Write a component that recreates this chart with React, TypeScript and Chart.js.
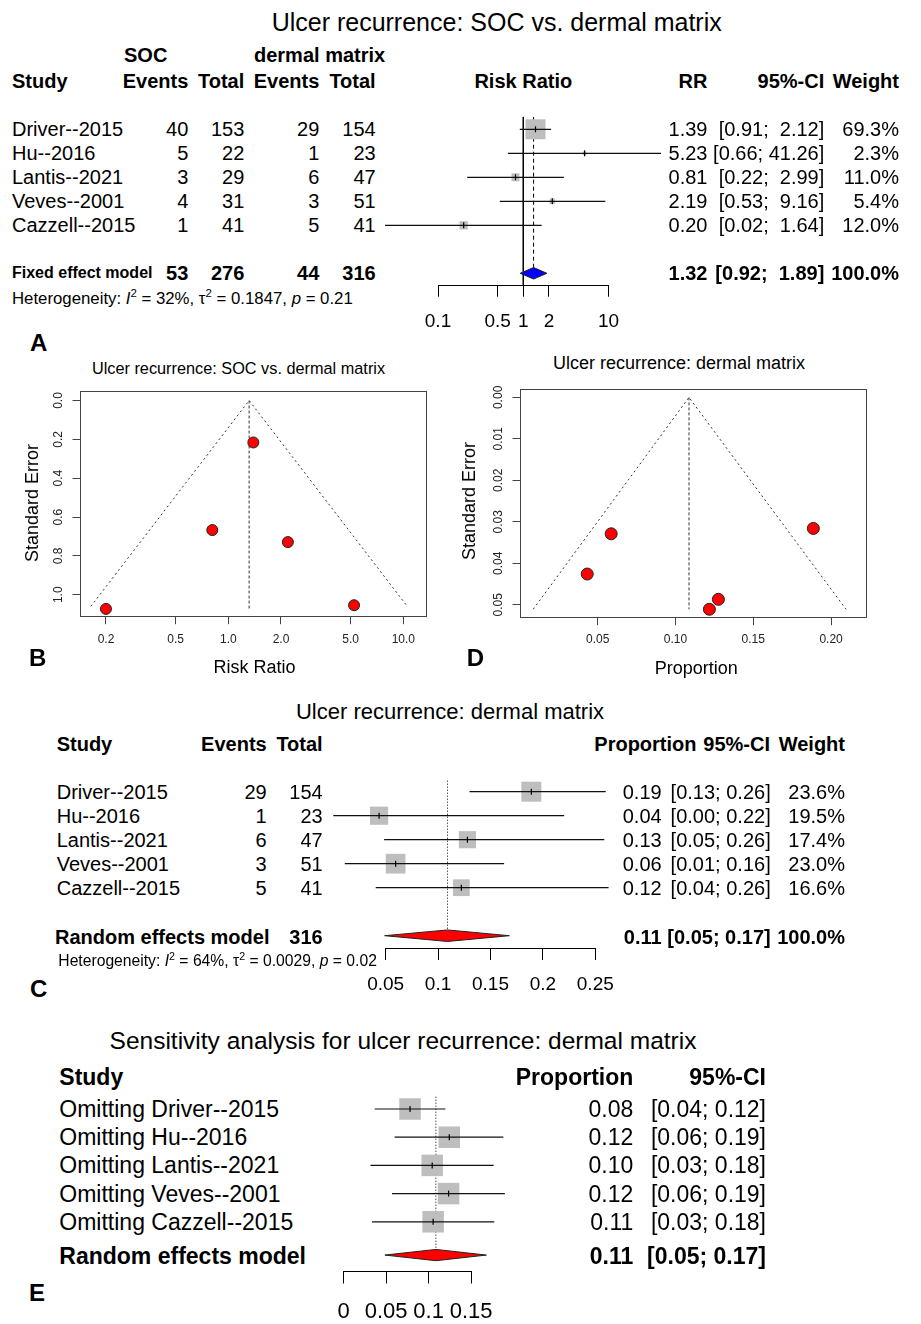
import React, { useEffect, useRef } from 'react';
import { Chart, registerables } from 'chart.js';

Chart.register(...registerables);

const FONT = '"Liberation Sans", Arial, Helvetica, sans-serif';
Chart.defaults.font.family = FONT;
Chart.defaults.color = '#000';

// ---------------- data ----------------
const studies = ['Driver--2015', 'Hu--2016', 'Lantis--2021', 'Veves--2001', 'Cazzell--2015'];
const socEvents = [40, 5, 3, 4, 1];
const socTotal = [153, 22, 29, 31, 41];
const dmEvents = [29, 1, 6, 3, 5];
const dmTotal = [154, 23, 47, 51, 41];
const socSum = [53, 276];
const dmSum = [44, 316];

// Panel A: risk ratios
const rrEst = [1.39, 5.23, 0.81, 2.19, 0.2];
const rrLower = [0.91, 0.66, 0.22, 0.53, 0.02];
const rrUpper = [2.12, 41.26, 2.99, 9.16, 1.64];
const rrWeight = [69.3, 2.3, 11.0, 5.4, 12.0];
const rrFixed = [1.32, 0.92, 1.89]; // estimate, lower, upper
const rrTicks = [0.1, 0.5, 1, 2, 10];
const rrTickLabels = ['0.1', '0.5', '1', '2', '10'];
const hetA = ['32%', '0.1847', '0.21'];

// Panel B: funnel (risk ratio)
const funnelRRse = [0.216, 1.054, 0.667, 0.729, 1.073];
const funnelRRbounds = [0.164, 1.315, 10.54]; // lower, centre, upper
const funnelRRmaxSE = 1.06;
const funnelRRcentreSE = 1.074;
const bXTicks = [0.2, 0.5, 1, 2, 5, 10];
const bXLabels = ['0.2', '0.5', '1.0', '2.0', '5.0', '10.0'];
const bYTicks = [0, 0.2, 0.4, 0.6, 0.8, 1.0];
const bYLabels = ['0.0', '0.2', '0.4', '0.6', '0.8', '1.0'];

// Panel D: funnel (proportion)
const funnelProp = [0.1886, 0.0433, 0.1276, 0.0587, 0.1218];
const funnelPropSE = [0.0316, 0.0426, 0.0487, 0.0329, 0.0511];
const funnelPropBounds = [0.0086, 0.1087, 0.2096];
const funnelPropMaxSE = 0.0511;
const dXTicks = [0.05, 0.1, 0.15, 0.2];
const dXLabels = ['0.05', '0.10', '0.15', '0.20'];
const dYTicks = [0, 0.01, 0.02, 0.03, 0.04, 0.05];
const dYLabels = ['0.00', '0.01', '0.02', '0.03', '0.04', '0.05'];

// Panel C: proportions
const propEst = [0.189, 0.0437, 0.128, 0.0595, 0.1222];
const propLower = [0.13, 0.0, 0.0485, 0.011, 0.0405];
const propUpper = [0.26, 0.2203, 0.2586, 0.163, 0.2627];
const propWeight = [23.6, 19.5, 17.4, 23.0, 16.6];
const propRandom = [0.109, 0.049, 0.168];
const cTicks = [0.05, 0.1, 0.15, 0.2, 0.25];
const cTickLabels = ['0.05', '0.1', '0.15', '0.2', '0.25'];
const hetC = ['64%', '0.0029', '0.02'];

// Panel E: leave-one-out
const looEst = [0.0781, 0.1243, 0.1042, 0.1235, 0.1053];
const looLower = [0.0364, 0.0599, 0.0315, 0.0568, 0.0334];
const looUpper = [0.1198, 0.188, 0.1766, 0.1898, 0.1773];
const looRandom = [0.1085, 0.0485, 0.168];
const eTicks = [0, 0.05, 0.1, 0.15];
const eTickLabels = ['0', '0.05', '0.1', '0.15'];

// ---------------- helpers ----------------
type Pad = { left: number; top: number; right: number; bottom: number };
type Geom = { L: number; T: number; W: number; H: number; pad: Pad };

function geom(l: number, t: number, r: number, b: number, yw: number, xh: number, m = 8): Geom {
  const L = Math.floor(l - yw - m);
  const T = Math.floor(t - m);
  const W = Math.ceil(r + m - L);
  const H = Math.ceil(b + xh + m - T);
  return { L, T, W, H, pad: { left: l - yw - L, top: t - T, right: L + W - r, bottom: T + H - b - xh } };
}

const alignPx = (p: number) => Math.round(p - 0.5) + 0.5;

const axisLinePlugin = {
  id: 'axisLine',
  afterDraw(chart: any) {
    const o = chart.options.plugins && chart.options.plugins.axisLine;
    if (!o || !o.on) return;
    const s = chart.scales.x;
    const t = s.ticks;
    const ctx = chart.ctx;
    const x1 = alignPx(s.getPixelForValue(t[0].value));
    const x2 = alignPx(s.getPixelForValue(t[t.length - 1].value));
    const y = alignPx(s.top);
    ctx.save();
    ctx.strokeStyle = '#000';
    ctx.lineWidth = 1;
    ctx.beginPath();
    ctx.moveTo(x1 - 0.5, y);
    ctx.lineTo(x2 + 0.5, y);
    ctx.stroke();
    ctx.restore();
  },
};

const framePlugin = {
  id: 'frame',
  afterDraw(chart: any) {
    const o = chart.options.plugins && chart.options.plugins.frame;
    if (!o || !o.on) return;
    const a = chart.chartArea;
    const ctx = chart.ctx;
    ctx.save();
    ctx.strokeStyle = '#444';
    ctx.lineWidth = 1;
    const l = alignPx(a.left), t = alignPx(a.top), r = alignPx(a.right), b = alignPx(a.bottom);
    ctx.strokeRect(l, t, r - l, b - t);
    ctx.restore();
  },
};

function baseOptions(g: Geom) {
  return {
    responsive: false,
    maintainAspectRatio: false,
    animation: false,
    devicePixelRatio: 1,
    events: [],
    layout: { autoPadding: false, padding: g.pad },
  };
}

function fixedTicks(vals: number[]) {
  return (s: any) => {
    s.ticks = vals.map((v) => ({ value: v }));
  };
}

interface ForestSpec {
  area: [number, number, number, number];
  xh: number;
  xType: 'linear' | 'logarithmic';
  xMin: number;
  xMax: number;
  yMin: number;
  yMax: number;
  est: number[];
  lo: number[];
  hi: number[];
  sizes: number[];
  pooled: number[];
  pooledRow: number;
  diaHalf: number;
  diaColor: string;
  refs: { x: number; y0: number; y1: number; dash: number[] }[];
  ticks: number[];
  tickLabels: string[];
  tickLen: number;
  tickFont: number;
  tickPad: number;
}

function forest(s: ForestSpec) {
  const g = geom(s.area[0], s.area[1], s.area[2], s.area[3], 0, s.xh);
  const rows = s.est.map((_, i) => i + 1);
  const make = () => {
    const datasets: any[] = [];
    s.refs.forEach((r) =>
      datasets.push({
        data: [{ x: r.x, y: r.y0 }, { x: r.x, y: r.y1 }],
        borderColor: '#000',
        borderWidth: 1,
        borderDash: r.dash,
        pointRadius: 0,
        order: 5,
      })
    );
    datasets.push({
      data: s.est.map((v, i) => ({ x: v, y: rows[i] })),
      showLine: false,
      pointStyle: 'rect',
      pointRadius: s.sizes.map((z) => z / Math.SQRT2),
      pointBackgroundColor: '#bebebe',
      pointBorderWidth: 0,
      clip: false,
      order: 3,
    });
    s.est.forEach((_, i) =>
      datasets.push({
        data: [{ x: s.lo[i], y: rows[i] }, { x: s.hi[i], y: rows[i] }],
        borderColor: '#111',
        borderWidth: 1.2,
        pointRadius: 0,
        order: 2,
      })
    );
    datasets.push({
      data: s.est.map((v, i) => ({ x: v, y: rows[i] })),
      showLine: false,
      pointStyle: 'line',
      rotation: 90,
      pointRadius: 3,
      pointBorderColor: '#000',
      pointBorderWidth: 1.2,
      clip: false,
      order: 1,
    });
    const [pe, pl, ph] = s.pooled;
    datasets.push({
      data: [
        { x: pl, y: s.pooledRow },
        { x: pe, y: s.pooledRow - s.diaHalf },
        { x: ph, y: s.pooledRow },
        { x: pe, y: s.pooledRow + s.diaHalf },
        { x: pl, y: s.pooledRow },
      ],
      borderColor: '#222',
      borderWidth: 1,
      backgroundColor: s.diaColor,
      fill: 'shape',
      pointRadius: 0,
      order: 4,
    });
    return {
      type: 'line',
      data: { datasets },
      options: {
        ...baseOptions(g),
        plugins: { legend: { display: false }, tooltip: { enabled: false }, axisLine: { on: true } },
        scales: {
          x: {
            type: s.xType,
            position: 'bottom',
            min: s.xMin,
            max: s.xMax,
            bounds: 'data',
            afterBuildTicks: fixedTicks(s.ticks),
            afterFit: (sc: any) => {
              sc.height = s.xh;
            },
            ticks: {
              autoSkip: false,
              minRotation: 0,
              maxRotation: 0,
              padding: s.tickPad,
              color: '#000',
              font: { size: s.tickFont, family: FONT },
              callback: (_v: any, i: number) => s.tickLabels[i],
            },
            grid: { display: true, drawOnChartArea: false, drawTicks: true, tickLength: s.tickLen, color: '#000', lineWidth: 1 },
            border: { display: false },
          },
          y: { type: 'linear', display: false, reverse: true, min: s.yMin, max: s.yMax, bounds: 'data' },
        },
      },
      plugins: [axisLinePlugin],
    };
  };
  return { g, make };
}

interface FunnelSpec {
  area: [number, number, number, number];
  yw: number;
  xh: number;
  xType: 'linear' | 'logarithmic';
  xMin: number;
  xMax: number;
  yMin: number;
  yMax: number;
  xs: number[];
  ses: number[];
  bounds: number[];
  maxSE: number;
  centreSE: number;
  xTicks: number[];
  xLabels: string[];
  yTicks: number[];
  yLabels: string[];
  xPad: number;
  yPad: number;
  radius: number;
}

function funnel(s: FunnelSpec) {
  const g = geom(s.area[0], s.area[1], s.area[2], s.area[3], s.yw, s.xh);
  const make = () => {
    const [lo, c, hi] = s.bounds;
    const datasets: any[] = [
      {
        data: [{ x: lo, y: s.maxSE }, { x: c, y: 0 }, { x: hi, y: s.maxSE }],
        borderColor: '#333',
        borderWidth: 1,
        borderDash: [2, 3],
        pointRadius: 0,
        order: 3,
      },
      {
        data: [{ x: c, y: 0 }, { x: c, y: s.centreSE }],
        borderColor: '#333',
        borderWidth: 1,
        borderDash: [3, 2],
        pointRadius: 0,
        order: 2,
      },
      {
        data: s.xs.map((v, i) => ({ x: v, y: s.ses[i] })),
        showLine: false,
        pointStyle: 'circle',
        pointRadius: s.radius,
        pointBackgroundColor: '#ff0000',
        pointBorderColor: '#222',
        pointBorderWidth: 1,
        clip: false,
        order: 1,
      },
    ];
    const tickFont = { size: 12, family: FONT };
    return {
      type: 'line',
      data: { datasets },
      options: {
        ...baseOptions(g),
        plugins: { legend: { display: false }, tooltip: { enabled: false }, frame: { on: true } },
        scales: {
          x: {
            type: s.xType,
            position: 'bottom',
            min: s.xMin,
            max: s.xMax,
            bounds: 'data',
            afterBuildTicks: fixedTicks(s.xTicks),
            afterFit: (sc: any) => {
              sc.height = s.xh;
            },
            ticks: {
              autoSkip: false,
              minRotation: 0,
              maxRotation: 0,
              padding: s.xPad,
              color: '#222',
              font: tickFont,
              callback: (_v: any, i: number) => s.xLabels[i],
            },
            grid: { display: true, drawOnChartArea: false, drawTicks: true, tickLength: 7.5, color: '#444', lineWidth: 1 },
            border: { display: false },
          },
          y: {
            type: 'linear',
            position: 'left',
            reverse: true,
            min: s.yMin,
            max: s.yMax,
            bounds: 'data',
            afterBuildTicks: fixedTicks(s.yTicks),
            afterFit: (sc: any) => {
              sc.width = s.yw;
            },
            ticks: {
              autoSkip: false,
              minRotation: 90,
              maxRotation: 90,
              crossAlign: 'center',
              padding: s.yPad,
              color: '#222',
              font: tickFont,
              callback: (_v: any, i: number) => s.yLabels[i],
            },
            grid: { display: true, drawOnChartArea: false, drawTicks: true, tickLength: 7.5, color: '#444', lineWidth: 1 },
            border: { display: false },
          },
        },
      },
      plugins: [framePlugin],
    };
  };
  return { g, make };
}

function ChartCanvas({ g, make }: { g: Geom; make: () => any }) {
  const ref = useRef<HTMLCanvasElement>(null);
  useEffect(() => {
    const chart = new Chart(ref.current as HTMLCanvasElement, make());
    return () => chart.destroy();
  }, []);
  return (
    <canvas
      ref={ref}
      width={g.W}
      height={g.H}
      style={{ position: 'absolute', left: g.L, top: g.T, width: g.W, height: g.H }}
    />
  );
}

function T({ x, y, s, a = 'l', b = false, rot = false, children }: any) {
  const tx = a === 'l' ? '0%' : a === 'r' ? '-100%' : '-50%';
  return (
    <div
      style={{
        position: 'absolute',
        left: x,
        top: y,
        fontSize: s,
        fontWeight: b ? 700 : 400,
        lineHeight: 1,
        whiteSpace: 'pre',
        color: '#000',
        transform: `translate(${tx},-50%)` + (rot ? ' rotate(-90deg)' : ''),
      }}
    >
      {children}
    </div>
  );
}

const Sup = ({ children }: any) => (
  <sup style={{ fontSize: '0.68em', verticalAlign: '0.55em', lineHeight: 0 }}>{children}</sup>
);

function Het({ v }: { v: string[] }) {
  return (
    <>
      Heterogeneity: <i>I</i>
      <Sup>2</Sup> = {v[0]}, τ<Sup>2</Sup> = {v[1]}, <i>p</i> = {v[2]}
    </>
  );
}

function ciStrings(lo: number[], hi: number[]) {
  const L = lo.map((v) => v.toFixed(2));
  const H = hi.map((v) => v.toFixed(2));
  const wl = Math.max(...L.map((s) => s.length));
  const wh = Math.max(...H.map((s) => s.length));
  return L.map((l, i) => `[${l.padStart(wl)}; ${H[i].padStart(wh)}]`);
}

// ---------------- App ----------------
export default function App() {
  // Panel A
  const rowA = (i: number) => 129.3 + 24 * i;
  const ciA = ciStrings([...rrLower, rrFixed[1]], [...rrUpper, rrFixed[2]]);
  const chartA = forest({
    area: [385, 116.7, 661, 285.7],
    xh: 50,
    xType: 'logarithmic',
    xMin: 0.02391,
    xMax: 41.16,
    yMin: 0.475,
    yMax: 7.517,
    est: rrEst,
    lo: rrLower,
    hi: rrUpper,
    sizes: rrWeight.map((w) => 20 * Math.sqrt(w / Math.max(...rrWeight))),
    pooled: rrFixed,
    pooledRow: 7,
    diaHalf: 0.24,
    diaColor: '#0000ff',
    refs: [
      { x: 1, y0: 0.475, y1: 7.517, dash: [] },
      { x: rrFixed[0], y0: 0.475, y1: 6.76, dash: [4, 3] },
    ],
    ticks: rrTicks,
    tickLabels: rrTickLabels,
    tickLen: 11,
    tickFont: 19,
    tickPad: 13.6,
  });

  // Panel B
  const chartB = funnel({
    area: [80, 386.7, 426.7, 616.7],
    yw: 50,
    xh: 40,
    xType: 'logarithmic',
    xMin: 0.14211,
    xMax: 13.6,
    yMin: -0.04848,
    yMax: 1.1131,
    xs: rrEst,
    ses: funnelRRse,
    bounds: funnelRRbounds,
    maxSE: funnelRRmaxSE,
    centreSE: funnelRRcentreSE,
    xTicks: bXTicks,
    xLabels: bXLabels,
    yTicks: bYTicks,
    yLabels: bYLabels,
    xPad: 7.9,
    yPad: 5.9,
    radius: 5.5,
  });

  // Panel D
  const chartD = funnel({
    area: [520, 388.3, 866.7, 617.7],
    yw: 50,
    xh: 40,
    xType: 'linear',
    xMin: 0.0001,
    xMax: 0.2229,
    yMin: -0.00202,
    yMax: 0.05313,
    xs: funnelProp,
    ses: funnelPropSE,
    bounds: funnelPropBounds,
    maxSE: funnelPropMaxSE,
    centreSE: funnelPropMaxSE,
    xTicks: dXTicks,
    xLabels: dXLabels,
    yTicks: dYTicks,
    yLabels: dYLabels,
    xPad: 7.6,
    yPad: 1.8,
    radius: 6,
  });

  // Panel C
  const rowC = (i: number) => 791.7 + 24 * i;
  const ciC = ciStrings([...propLower, propRandom[1]], [...propUpper, propRandom[2]]);
  const maxPW = Math.max(...propWeight);
  const chartC = forest({
    area: [325, 778, 620, 948.3],
    xh: 50,
    xType: 'linear',
    xMin: -0.00788,
    xMax: 0.27219,
    yMin: 0.429,
    yMax: 7.525,
    est: propEst,
    lo: propLower,
    hi: propUpper,
    sizes: propWeight.map((w) => 20 * Math.sqrt(w / maxPW)),
    pooled: propRandom,
    pooledRow: 7,
    diaHalf: 0.24,
    diaColor: '#ff0000',
    refs: [{ x: propRandom[0], y0: 0.54, y1: 6.76, dash: [1, 2] }],
    ticks: cTicks,
    tickLabels: cTickLabels,
    tickLen: 11.7,
    tickFont: 19,
    tickPad: 13.6,
  });

  // Panel E
  const rowE = (i: number) => 1109 + 28.2 * i;
  const ciE = ciStrings([...looLower, looRandom[1]], [...looUpper, looRandom[2]]);
  const chartE = forest({
    area: [330, 1094, 520, 1271],
    xh: 52,
    xType: 'linear',
    xMin: -0.0083,
    xMax: 0.2076,
    yMin: 0.468,
    yMax: 6.745,
    est: looEst,
    lo: looLower,
    hi: looUpper,
    sizes: looEst.map(() => 21.5),
    pooled: looRandom,
    pooledRow: 6.18,
    diaHalf: 0.2,
    diaColor: '#ff0000',
    refs: [{ x: looRandom[0], y0: 0.564, y1: 5.97, dash: [1, 2] }],
    ticks: eTicks,
    tickLabels: eTickLabels,
    tickLen: 12.5,
    tickFont: 22,
    tickPad: 15.3,
  });

  const F = 20;
  return (
    <div
      style={{
        position: 'absolute',
        left: 0,
        top: 0,
        width: 921,
        height: 1324,
        overflow: 'hidden',
        background: '#fff',
        fontFamily: FONT,
        color: '#000',
      }}
    >
      <ChartCanvas g={chartA.g} make={chartA.make} />
      <ChartCanvas g={chartB.g} make={chartB.make} />
      <ChartCanvas g={chartD.g} make={chartD.make} />
      <ChartCanvas g={chartC.g} make={chartC.make} />
      <ChartCanvas g={chartE.g} make={chartE.make} />

      {/* ---------- Panel A ---------- */}
      <T x={496.7} y={22} s={25} a="c">Ulcer recurrence: SOC vs. dermal matrix</T>
      <T x={124} y={55} s={F} b>SOC</T>
      <T x={254} y={55} s={F} b>dermal matrix</T>
      <T x={12} y={81} s={F} b>Study</T>
      <T x={188.3} y={81} s={F} b a="r">Events</T>
      <T x={244.3} y={81} s={F} b a="r">Total</T>
      <T x={319.3} y={81} s={F} b a="r">Events</T>
      <T x={375.7} y={81} s={F} b a="r">Total</T>
      <T x={523.3} y={81} s={F} b a="c">Risk Ratio</T>
      <T x={707.5} y={81} s={F} b a="r">RR</T>
      <T x={824.3} y={81} s={F} b a="r">95%-CI</T>
      <T x={899} y={81} s={F} b a="r">Weight</T>
      {studies.map((st, i) => (
        <React.Fragment key={'a' + i}>
          <T x={12} y={rowA(i)} s={F}>{st}</T>
          <T x={188.3} y={rowA(i)} s={F} a="r">{socEvents[i]}</T>
          <T x={244.3} y={rowA(i)} s={F} a="r">{socTotal[i]}</T>
          <T x={319.3} y={rowA(i)} s={F} a="r">{dmEvents[i]}</T>
          <T x={375.7} y={rowA(i)} s={F} a="r">{dmTotal[i]}</T>
          <T x={707.5} y={rowA(i)} s={F} a="r">{rrEst[i].toFixed(2)}</T>
          <T x={824.3} y={rowA(i)} s={F} a="r">{ciA[i]}</T>
          <T x={899} y={rowA(i)} s={F} a="r">{rrWeight[i].toFixed(1) + '%'}</T>
        </React.Fragment>
      ))}
      <T x={12} y={273.3} s={16} b>Fixed effect model</T>
      <T x={188.3} y={273.3} s={F} b a="r">{socSum[0]}</T>
      <T x={244.3} y={273.3} s={F} b a="r">{socSum[1]}</T>
      <T x={319.3} y={273.3} s={F} b a="r">{dmSum[0]}</T>
      <T x={375.7} y={273.3} s={F} b a="r">{dmSum[1]}</T>
      <T x={707.5} y={273.3} s={F} b a="r">{rrFixed[0].toFixed(2)}</T>
      <T x={824.3} y={273.3} s={F} b a="r">{ciA[5]}</T>
      <T x={899} y={273.3} s={F} b a="r">100.0%</T>
      <T x={12} y={298.7} s={16.8}><Het v={hetA} /></T>
      <T x={30} y={343} s={24} b>A</T>

      {/* ---------- Panel B ---------- */}
      <T x={238.5} y={367.7} s={16.3} a="c">Ulcer recurrence: SOC vs. dermal matrix</T>
      <T x={31.7} y={502.5} s={18} a="c" rot>Standard Error</T>
      <T x={254.5} y={666.7} s={18} a="c">Risk Ratio</T>
      <T x={29} y={658} s={24} b>B</T>

      {/* ---------- Panel D ---------- */}
      <T x={679} y={363.3} s={18} a="c">Ulcer recurrence: dermal matrix</T>
      <T x={469.3} y={500.5} s={18} a="c" rot>Standard Error</T>
      <T x={696.3} y={668.3} s={18} a="c">Proportion</T>
      <T x={466.7} y={657.7} s={24} b>D</T>

      {/* ---------- Panel C ---------- */}
      <T x={450} y={711.7} s={22} a="c">Ulcer recurrence: dermal matrix</T>
      <T x={56.7} y={744.3} s={F} b>Study</T>
      <T x={266.7} y={744.3} s={F} b a="r">Events</T>
      <T x={322.7} y={744.3} s={F} b a="r">Total</T>
      <T x={594.3} y={744.3} s={F} b>Proportion</T>
      <T x={770} y={744.3} s={F} b a="r">95%-CI</T>
      <T x={845} y={744.3} s={F} b a="r">Weight</T>
      {studies.map((st, i) => (
        <React.Fragment key={'c' + i}>
          <T x={56.7} y={rowC(i)} s={F}>{st}</T>
          <T x={266.7} y={rowC(i)} s={F} a="r">{dmEvents[i]}</T>
          <T x={322.7} y={rowC(i)} s={F} a="r">{dmTotal[i]}</T>
          <T x={661.7} y={rowC(i)} s={F} a="r">{propEst[i].toFixed(2)}</T>
          <T x={770.7} y={rowC(i)} s={F} a="r">{ciC[i]}</T>
          <T x={845} y={rowC(i)} s={F} a="r">{propWeight[i].toFixed(1) + '%'}</T>
        </React.Fragment>
      ))}
      <T x={55} y={936.7} s={F} b>Random effects model</T>
      <T x={322.7} y={936.7} s={F} b a="r">{dmSum[1]}</T>
      <T x={661.7} y={936.7} s={F} b a="r">{propRandom[0].toFixed(2)}</T>
      <T x={770.7} y={936.7} s={F} b a="r">{ciC[5]}</T>
      <T x={845} y={936.7} s={F} b a="r">100.0%</T>
      <T x={58.3} y={960.7} s={15.7}><Het v={hetC} /></T>
      <T x={30} y={989} s={24} b>C</T>

      {/* ---------- Panel E ---------- */}
      <T x={403} y={1040.7} s={24.5} a="c">Sensitivity analysis for ulcer recurrence: dermal matrix</T>
      <T x={59.3} y={1076.7} s={23} b>Study</T>
      <T x={633.3} y={1076.7} s={23} b a="r">Proportion</T>
      <T x={766} y={1076.7} s={23} b a="r">95%-CI</T>
      {studies.map((st, i) => (
        <React.Fragment key={'e' + i}>
          <T x={59.3} y={rowE(i)} s={23}>{'Omitting ' + st}</T>
          <T x={633.3} y={rowE(i)} s={23} a="r">{looEst[i].toFixed(2)}</T>
          <T x={766} y={rowE(i)} s={23} a="r">{ciE[i]}</T>
        </React.Fragment>
      ))}
      <T x={59.3} y={1255.7} s={23} b>Random effects model</T>
      <T x={633.3} y={1255.7} s={23} b a="r">{looRandom[0].toFixed(2)}</T>
      <T x={766} y={1255.7} s={23} b a="r">{ciE[5]}</T>
      <T x={29} y={1293.3} s={24} b>E</T>
    </div>
  );
}
